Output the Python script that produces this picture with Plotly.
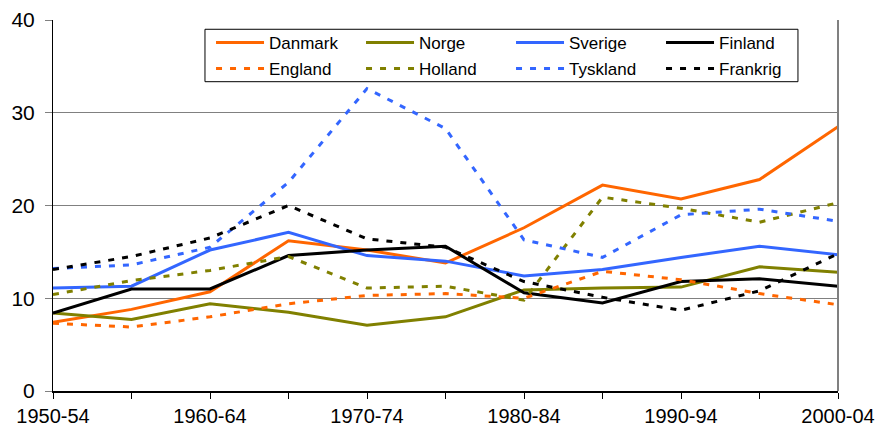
import plotly.graph_objects as go

categories = ["1950-54", "1955-59", "1960-64", "1965-69", "1970-74", "1975-79",
              "1980-84", "1985-89", "1990-94", "1995-99", "2000-04"]
tick_labels = ["1950-54", "", "1960-64", "", "1970-74", "", "1980-84", "", "1990-94", "", "2000-04"]

danmark = [7.4, 8.8, 10.7, 16.2, 15.2, 13.8, 17.6, 22.2, 20.7, 22.8, 28.5]
norge = [8.4, 7.7, 9.4, 8.5, 7.1, 8.0, 10.9, 11.1, 11.2, 13.4, 12.8]
sverige = [11.1, 11.3, 15.2, 17.1, 14.6, 14.0, 12.4, 13.1, 14.4, 15.6, 14.7]
finland = [8.4, 11.0, 11.0, 14.6, 15.2, 15.6, 10.6, 9.5, 11.8, 12.1, 11.3]
england = [7.3, 6.9, 8.0, 9.4, 10.3, 10.5, 10.0, 12.9, 12.0, 10.5, 9.3]
holland = [10.4, 11.9, 13.0, 14.5, 11.1, 11.3, 9.8, 20.9, 19.7, 18.2, 20.3]
tyskland = [13.2, 13.6, 15.5, 22.5, 32.6, 28.3, 16.3, 14.4, 19.0, 19.6, 18.3]
frankrig = [13.1, 14.5, 16.5, 20.0, 16.4, 15.5, 11.8, 10.1, 8.7, 10.8, 14.8]

ORANGE = "#FF6600"
OLIVE = "#808000"
BLUE = "#3366FF"
BLACK = "#000000"

series = [
    ("Danmark", danmark, ORANGE, "solid", "legend"),
    ("Norge", norge, OLIVE, "solid", "legend"),
    ("Sverige", sverige, BLUE, "solid", "legend"),
    ("Finland", finland, BLACK, "solid", "legend"),
    ("England", england, ORANGE, "6px,8px", "legend2"),
    ("Holland", holland, OLIVE, "6px,8px", "legend2"),
    ("Tyskland", tyskland, BLUE, "6px,8px", "legend2"),
    ("Frankrig", frankrig, BLACK, "6px,8px", "legend2"),
]

fig = go.Figure()
for name, vals, color, dash, leg in series:
    fig.add_trace(go.Scatter(
        x=categories, y=vals, name=name, mode="lines",
        line=dict(color=color, width=3, dash=dash),
        legend=leg,
    ))

FONT = "Liberation Sans, Arial, sans-serif"

legend_common = dict(
    orientation="h",
    xanchor="left", yanchor="middle",
    bgcolor="rgba(0,0,0,0)", borderwidth=0,
    font=dict(family=FONT, size=17, color="black"),
    entrywidth=87, entrywidthmode="pixels",
    itemwidth=48,
    traceorder="normal",
)

fig.update_layout(
    width=878, height=430,
    margin=dict(l=53, r=40, t=20, b=39, autoexpand=False),
    paper_bgcolor="white", plot_bgcolor="white",
    font=dict(family=FONT, size=20, color="black"),
    showlegend=True,
    legend=dict(x=0.2013, y=0.938, **legend_common),
    legend2=dict(x=0.2013, y=0.868, **legend_common),
    xaxis=dict(
        type="category",
        categoryorder="array", categoryarray=categories,
        range=[0, len(categories) - 1],
        tickmode="array", tickvals=categories, ticktext=tick_labels,
        ticks="outside", ticklen=6, tickcolor="black", tickwidth=1,
        showline=True, linecolor="black", linewidth=2,
        showgrid=False, zeroline=False, automargin=False,
        tickfont=dict(family=FONT, size=20, color="black"),
    ),
    yaxis=dict(
        range=[0, 40], dtick=10,
        ticks="outside", ticklen=7, tickcolor="#808080", tickwidth=1,
        ticklabelstandoff=6,
        showline=True, linecolor="black", linewidth=1,
        showgrid=True, gridcolor="#808080", gridwidth=1,
        zeroline=False, automargin=False,
        tickfont=dict(family=FONT, size=21, color="black"),
    ),
)

# right border of the plot area
fig.add_shape(type="line", xref="paper", yref="paper",
              x0=1, x1=1, y0=0, y1=1,
              line=dict(color="#808080", width=2))
# legend frame
fig.add_shape(type="rect", xref="paper", yref="paper",
              x0=0.1936, x1=0.949, y0=0.8337, y1=0.975,
              line=dict(color="black", width=1), fillcolor="white",
              layer="above")

fig.write_html("out.html",
               config={"displayModeBar": False},
               post_script="document.body.style.margin='0';document.body.style.padding='0';")
